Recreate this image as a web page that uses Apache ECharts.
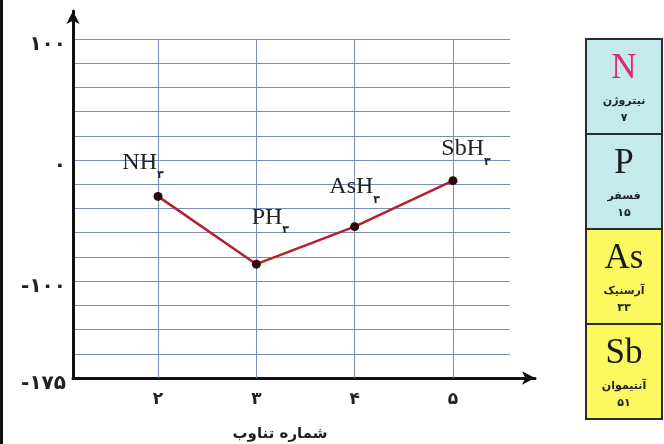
<!DOCTYPE html>
<html>
<head>
<meta charset="utf-8">
<script src="https://cdn.jsdelivr.net/npm/echarts@6/dist/echarts.min.js"></script>
<style>html,body{margin:0;padding:0;background:#fff;}#c{width:664px;height:444px;}</style>
</head>
<body>
<div id="c"></div>
<script>
// ---- data ----
var periods = [2, 3, 4, 5];
var periodLabels = ['۲', '۳', '۴', '۵'];
var compoundBase = ['NH', 'PH', 'AsH', 'SbH'];
var compoundSub = ['۳', '۳', '۳', '۳'];
var boilingPoints = [-30, -86, -55, -17];
var yTickValues = [100, 0, -100, -180];
var yTickLabels = ['۱۰۰', '۰', '-۱۰۰', '-۱۷۵'];
var xTitle = 'شماره تناوب';
var elemSymbols = ['N', 'P', 'As', 'Sb'];
var elemNames = ['نیتروژن', 'فسفر', 'آرسنیک', 'آنتیموان'];
var elemNumbers = ['۷', '۱۵', '۳۳', '۵۱'];

// ---- layout/style (not data) ----
var labelOffsets = [[-15, -6], [14, -19], [0, -12], [13, -4]];
var cellFill = ['#c4eaec', '#c4eaec', '#fbf860', '#fbf860'];
var symColor = ['#df2a6e', '#1a1a1a', '#1a1a1a', '#1a1a1a'];
var gridColor = '#7d8cb8';
var faFont = 'DejaVu Sans';
var serif = 'Liberation Serif';

var chart = echarts.init(document.getElementById('c'), null, {renderer: 'canvas'});

var seriesData = boilingPoints.map(function (v, i) {
  return {
    value: [periods[i], v],
    label: {offset: labelOffsets[i]}
  };
});

var cellTop = 39, cellH = 95, cellX = 586, cellW = 76;
var tableEls = [];
elemSymbols.forEach(function (s, i) {
  var top = cellTop + i * cellH;
  tableEls.push({type: 'rect', shape: {x: cellX, y: top, width: cellW, height: cellH},
    style: {fill: cellFill[i], stroke: '#2b2b2b', lineWidth: 2}, z: 10});
  tableEls.push({type: 'text', x: cellX + cellW / 2, y: top + 30, z: 11,
    style: {text: s, fill: symColor[i], font: '35px "' + serif + '"', align: 'center', verticalAlign: 'middle'}});
  tableEls.push({type: 'text', x: cellX + cellW / 2, y: top + 62, z: 11,
    style: {text: elemNames[i], fill: '#222', font: 'bold 11px "' + faFont + '"', align: 'center', verticalAlign: 'middle'}});
  tableEls.push({type: 'text', x: cellX + cellW / 2, y: top + 79, z: 11,
    style: {text: elemNumbers[i], fill: '#222', font: 'bold 11px "' + faFont + '"', align: 'center', verticalAlign: 'middle'}});
});
tableEls.push({type: 'rect', shape: {x: 0, y: 0, width: 3, height: 444}, style: {fill: '#111'}, z: 10});

var option = {
  backgroundColor: '#ffffff',
  animation: false,
  title: {
    text: xTitle, left: 275, top: 422, textAlign: 'center',
    textStyle: {fontFamily: faFont, fontWeight: 'bold', fontSize: 15, color: '#222'}
  },
  grid: [
    {left: 73, right: 154, top: 39, bottom: 66},
    {left: 73, right: 129, top: 11, bottom: 66}
  ],
  xAxis: [
    {
      type: 'value', gridIndex: 0, min: 1.135, max: 5.58,
      axisLine: {show: false}, axisTick: {show: false, customValues: periods},
      splitLine: {show: false},
      axisLabel: {
        customValues: periods, margin: 13,
        fontFamily: faFont, fontWeight: 'bold', fontSize: 17, color: '#222',
        formatter: function (v) { var k = periods.indexOf(v); return k < 0 ? '' : periodLabels[k]; }
      }
    },
    {
      type: 'value', gridIndex: 1, min: 0, max: 1,
      axisLine: {show: true, onZero: false, symbol: ['none', 'arrow'], symbolSize: [10, 13],
        lineStyle: {color: '#111', width: 3}},
      axisTick: {show: false}, axisLabel: {show: false}, splitLine: {show: false}
    }
  ],
  yAxis: [
    {
      type: 'value', gridIndex: 0, min: -180, max: 100, interval: 20,
      axisLine: {show: false}, axisTick: {show: false},
      splitLine: {show: true, lineStyle: {color: gridColor, width: 1}},
      axisLabel: {
        margin: 7, verticalAlign: 'top', lineHeight: 12,
        fontFamily: faFont, fontWeight: 'bold', fontSize: 20, color: '#222',
        formatter: function (v) { var k = yTickValues.indexOf(v); return k < 0 ? '' : yTickLabels[k]; }
      }
    },
    {
      type: 'value', gridIndex: 1, min: 0, max: 1,
      axisLine: {show: true, onZero: false, symbol: ['none', 'arrow'], symbolSize: [10, 13],
        lineStyle: {color: '#111', width: 3}},
      axisTick: {show: false}, axisLabel: {show: false}, splitLine: {show: false}
    }
  ],
  series: [{
    type: 'line',
    xAxisIndex: 0, yAxisIndex: 0,
    data: seriesData,
    symbol: 'circle', symbolSize: 9,
    itemStyle: {color: '#2a0b0b'},
    lineStyle: {color: '#b5202e', width: 2.5},
    z: 5,
    label: {
      show: true, position: 'top', distance: 5,
      formatter: function (p) {
        var i = p.dataIndex;
        return '{a|' + compoundBase[i] + '}{s|' + compoundSub[i] + '}';
      },
      rich: {
        a: {fontFamily: serif, fontSize: 24, color: '#222', lineHeight: 36, verticalAlign: 'middle'},
        s: {fontFamily: faFont, fontSize: 11, fontWeight: 'bold', color: '#222', lineHeight: 10, verticalAlign: 'bottom'}
      }
    },
    markLine: {
      silent: true, symbol: 'none', z: 1,
      label: {show: false},
      lineStyle: {color: gridColor, width: 1, type: 'solid'},
      data: periods.map(function (p) { return {xAxis: p}; })
    }
  }],
  graphic: tableEls
};
chart.setOption(option);
</script>
</body>
</html>
